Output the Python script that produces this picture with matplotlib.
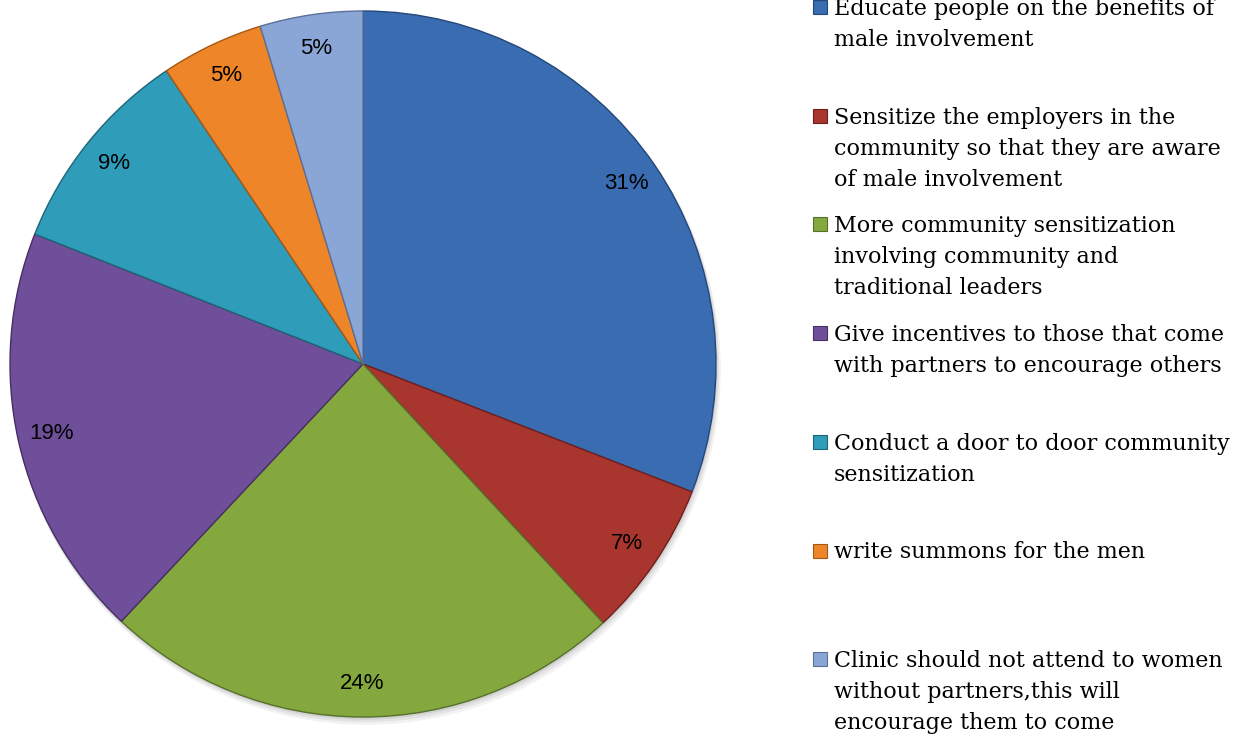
import matplotlib
matplotlib.use('Agg')
import matplotlib.pyplot as plt
from matplotlib.patches import Rectangle, Circle

# data
labels = [
    ['Educate people on the benefits of', 'male involvement'],
    ['Sensitize the employers in the', 'community so that they are aware', 'of male involvement'],
    ['More community sensitization', 'involving community and', 'traditional leaders'],
    ['Give incentives to those that come', 'with partners to encourage others'],
    ['Conduct a door to door community', 'sensitization'],
    ['write summons for the men'],
    ['Clinic should not attend to women', 'without partners,this will', 'encourage them to come'],
]
values = [30.9, 7.2, 23.9, 19.0, 9.6, 4.7, 4.7]
pct_labels = ['31%', '7%', '24%', '19%', '9%', '5%', '5%']
colors = ['#3A6CB2', '#A9352F', '#85A83E', '#6F4F99', '#2F9CB9', '#EE8629', '#8AA6D6']
edges = ['#24477A', '#6E1F1C', '#57702A', '#472F66', '#1D6679', '#A55814', '#5A7099']

W, H = 1248, 734
fig = plt.figure(figsize=(W / 100, H / 100), dpi=100)
ax = fig.add_axes([0, 0, 1, 1])

cx, cy, r = 363, H - 364, 353

# soft shadow under the pie
for k, a in [(6, 0.05), (4, 0.06), (2, 0.08)]:
    ax.add_patch(Circle((cx + k * 0.5, cy - k), r + k * 0.3, color='black', alpha=a, lw=0))

wedges, texts = ax.pie(values, colors=colors, startangle=90, counterclock=False,
                       center=(cx, cy), radius=r, labels=pct_labels,
                       labeldistance=0.905, frame=True,
                       wedgeprops=dict(linewidth=1.0),
                       textprops=dict(fontsize=16, family='Liberation Sans', color='black'))
for w, e in zip(wedges, edges):
    w.set_edgecolor(e)
for t in texts:
    t.set_ha('center')
    t.set_va('center')
ax.set_xlim(0, W)
ax.set_ylim(0, H)
ax.set_aspect('equal')
ax.axis('off')

# legend, drawn by hand
y0, step, lh = 15, 108.7, 31
for i, (lines, c, e) in enumerate(zip(labels, colors, edges)):
    base = y0 + i * step
    ax.add_patch(Rectangle((813, H - base + 1), 14, 14, facecolor=c, edgecolor=e, lw=0.8))
    for j, line in enumerate(lines):
        ax.text(834, H - (base + j * lh), line, fontsize=16, family='DejaVu Serif',
                va='baseline', ha='left', color='black')

fig.savefig('out.png', dpi=100)
